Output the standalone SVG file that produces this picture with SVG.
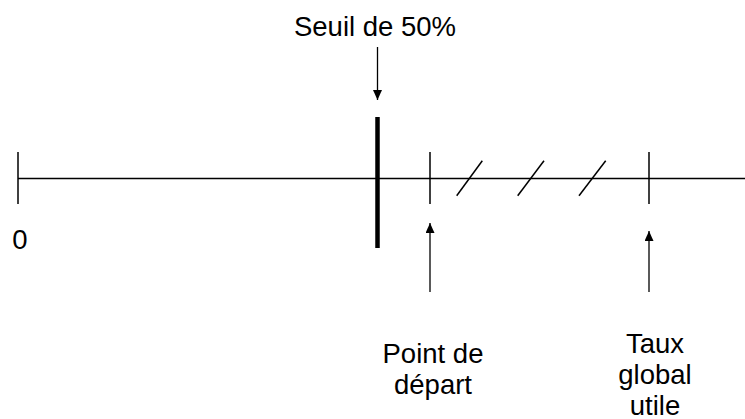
<svg xmlns="http://www.w3.org/2000/svg" width="745" height="419" viewBox="0 0 745 419">
<style>
.ln{stroke:#000;stroke-width:1.5;fill:none}
.ar{stroke:#000;stroke-width:1.3;fill:none}
.t{font-family:"Liberation Sans",Arial,sans-serif;font-size:27.5px;fill:#000;text-anchor:middle}
</style>
<defs>
<marker id="ah" markerWidth="10" markerHeight="9" refX="10" refY="4.5" orient="auto" markerUnits="userSpaceOnUse">
<path d="M0,0 L10,4.5 L0,9 Z" fill="#000"/>
</marker>
</defs>
<rect width="745" height="419" fill="#fff"/>
<g id="axis">
<line class="ln" x1="18" y1="178.5" x2="745" y2="178.5"/>
<line class="ln" x1="18" y1="152" x2="18" y2="204"/>
<line class="ln" x1="430" y1="152" x2="430" y2="204"/>
<line class="ln" x1="649" y1="152" x2="649" y2="204"/>
<line class="ln" x1="456.7" y1="195.7" x2="482.3" y2="160.7"/>
<line class="ln" x1="517.7" y1="195.7" x2="544" y2="160.7"/>
<line class="ln" x1="579" y1="195.7" x2="605.7" y2="160.7"/>
</g>
<g id="seuil-bar">
<line x1="377.5" y1="117" x2="377.5" y2="248" stroke="#000" stroke-width="4.5"/>
</g>
<g id="zero"><text class="t" x="20" y="249">0</text></g>
<g id="seuil"><text class="t" x="375" y="36">Seuil de 50%</text></g>
<g id="point-depart"><text class="t" x="433" y="363">Point de</text><text class="t" x="433" y="394">départ</text></g>
<g id="taux"><text class="t" x="655" y="353">Taux</text><text class="t" x="655" y="384">global</text><text class="t" x="655" y="415">utile</text></g>
<g id="connectors">
<line class="ar" x1="377.5" y1="47" x2="377.5" y2="100" marker-end="url(#ah)"/>
<line class="ar" x1="430" y1="292" x2="430" y2="223" marker-end="url(#ah)"/>
<line class="ar" x1="649" y1="292" x2="649" y2="231" marker-end="url(#ah)"/>
</g>
</svg>
